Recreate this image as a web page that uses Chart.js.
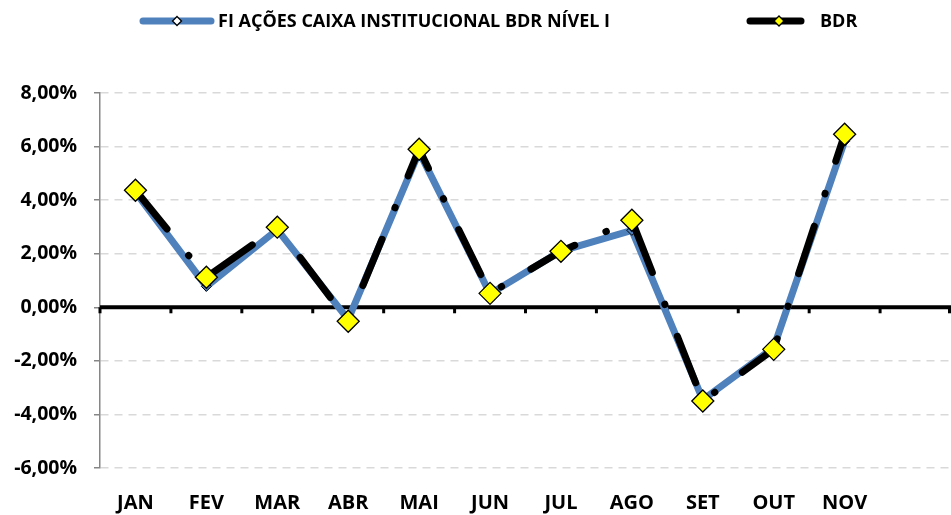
<!DOCTYPE html>
<html>
<head>
<meta charset="utf-8">
<script src="https://cdn.jsdelivr.net/npm/chart.js@4"></script>
<style>
  html, body { margin: 0; padding: 0; background: #fff; }
  #wrap { width: 951px; height: 515px; }
</style>
</head>
<body>
<div id="wrap"><canvas id="grafico" width="951" height="515"></canvas></div>
<script>
const meses = ['JAN', 'FEV', 'MAR', 'ABR', 'MAI', 'JUN', 'JUL', 'AGO', 'SET', 'OUT', 'NOV', ''];
const fundo = [4.30, 0.78, 2.90, -0.45, 5.80, 0.50, 2.10, 2.87, -3.45, -1.50, 6.20, null];
const bdr = [4.37, 1.12, 2.99, -0.52, 5.90, 0.52, 2.09, 3.25, -3.50, -1.57, 6.46, null];
const nomes = ['FI AÇÕES CAIXA INSTITUCIONAL BDR NÍVEL I', 'BDR'];

const fonte = '"Open Sans", "Liberation Sans", sans-serif';
const azul = '#4F81BD';

function losango(ctx, x, y, r, fill) {
  ctx.beginPath();
  ctx.moveTo(x, y - r);
  ctx.lineTo(x + r, y);
  ctx.lineTo(x, y + r);
  ctx.lineTo(x - r, y);
  ctx.closePath();
  ctx.fillStyle = fill;
  ctx.fill();
  ctx.lineWidth = 1.3;
  ctx.strokeStyle = '#000';
  ctx.stroke();
}

// legenda desenhada a mão (espaçamento do original)
const legenda = {
  id: 'legenda',
  afterDraw(chart) {
    const ctx = chart.ctx;
    ctx.save();
    ctx.lineCap = 'round';
    ctx.lineWidth = 7;
    ctx.strokeStyle = azul;
    ctx.beginPath(); ctx.moveTo(143, 21); ctx.lineTo(211, 21); ctx.stroke();
    losango(ctx, 177, 21, 4.5, '#fff');
    ctx.strokeStyle = '#000';
    ctx.lineWidth = 7;
    ctx.beginPath(); ctx.moveTo(750, 21); ctx.lineTo(801, 21); ctx.stroke();
    losango(ctx, 779, 21, 5, '#FFFF00');
    ctx.fillStyle = '#000';
    ctx.font = 'bold 18px ' + fonte;
    ctx.textBaseline = 'middle';
    ctx.fillText(nomes[0], 218, 22);
    ctx.fillText(nomes[1], 820, 22);
    ctx.restore();
  }
};

// linha do zero com marcas entre categorias
const linhaZero = {
  id: 'linhaZero',
  beforeDatasetsDraw(chart) {
    const { ctx, chartArea, scales: { x, y } } = chart;
    const y0 = y.getPixelForValue(0);
    ctx.save();
    ctx.strokeStyle = '#000';
    ctx.lineWidth = 4;
    ctx.beginPath();
    ctx.moveTo(chartArea.left, y0);
    ctx.lineTo(chartArea.right, y0);
    ctx.stroke();
    ctx.lineWidth = 3;
    const passo = (chartArea.right - chartArea.left) / meses.length;
    for (let i = 0; i <= meses.length; i++) {
      const px = Math.min(chartArea.left + i * passo, chartArea.right - 1.5);
      ctx.beginPath();
      ctx.moveTo(px, y0);
      ctx.lineTo(px, y0 + 6);
      ctx.stroke();
    }
    ctx.restore();
  }
};

const ctx = document.getElementById('grafico').getContext('2d');

new Chart(ctx, {
  type: 'line',
  data: {
    labels: meses,
    datasets: [
      {
        label: nomes[0],
        data: fundo,
        borderColor: azul,
        borderWidth: 7,
        pointStyle: 'rectRot',
        pointRadius: 5,
        pointBackgroundColor: azul,
        pointBorderColor: '#000',
        pointBorderWidth: 1,
        order: 2,
        tension: 0
      },
      {
        label: nomes[1],
        data: bdr,
        borderColor: '#000',
        borderWidth: 7,
        borderDash: [50, 34, 0.5, 34],
        borderCapStyle: 'round',
        pointStyle: 'rectRot',
        pointRadius: 11,
        pointBackgroundColor: '#FFFF00',
        pointBorderColor: '#000',
        pointBorderWidth: 1.3,
        order: 1,
        tension: 0
      }
    ]
  },
  options: {
    responsive: false,
    animation: false,
    layout: { autoPadding: false, padding: { top: 93, right: 0, bottom: 0, left: 0 } },
    plugins: {
      legend: { display: false },
      tooltip: { enabled: false }
    },
    scales: {
      x: {
        offset: true,
        afterFit(scale) {
          scale.height = 47;
          scale.paddingLeft = 0;
          scale.paddingRight = 0;
        },
        grid: { display: false, drawTicks: false },
        border: { display: false },
        ticks: {
          color: '#000',
          padding: 23,
          font: { family: fonte, size: 20, weight: 'bold' },
          maxRotation: 0,
          autoSkip: false
        }
      },
      y: {
        min: -6,
        max: 8,
        afterFit(scale) {
          scale.width = 100;
          scale.paddingTop = 0;
          scale.paddingBottom = 0;
        },
        grid: {
          color: '#d9d9d9',
          lineWidth: 1.5,
          drawTicks: true,
          tickLength: 6,
          tickColor: '#868686',
          tickBorderDash: [],
          tickWidth: 1.5
        },
        border: { display: true, color: '#868686', width: 1.5, dash: [8, 6] },
        ticks: {
          stepSize: 2,
          color: '#000',
          padding: 17,
          font: { family: fonte, size: 19.5, weight: 'bold' },
          callback: (v) => v.toFixed(2).replace('.', ',') + '%'
        }
      }
    }
  },
  plugins: [linhaZero, legenda]
});
</script>
</body>
</html>
